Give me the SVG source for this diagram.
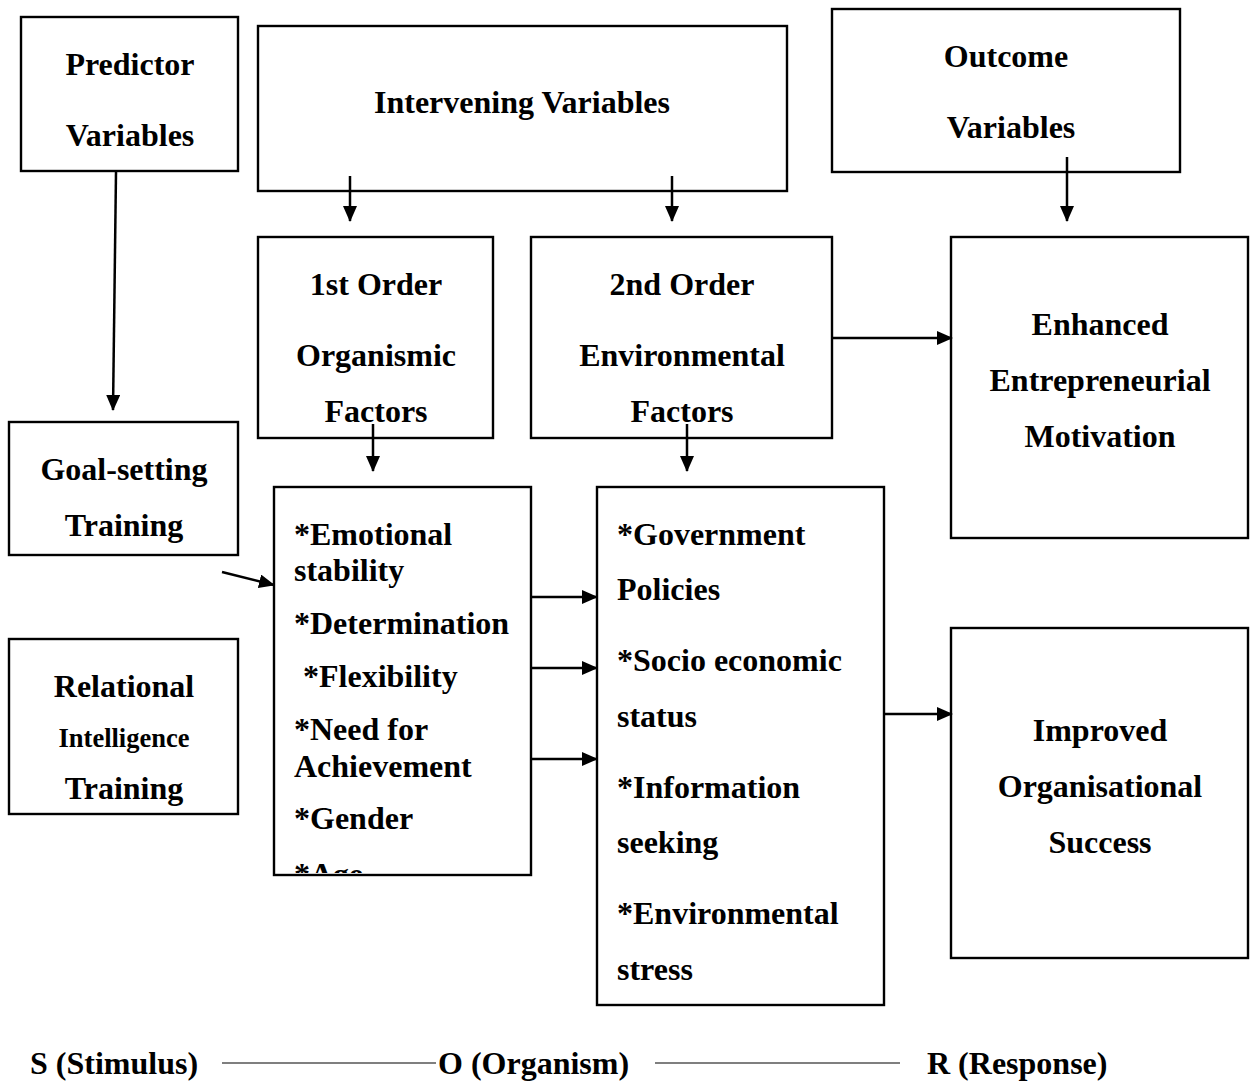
<svg xmlns="http://www.w3.org/2000/svg" width="1257" height="1081" viewBox="0 0 1257 1081">
<style>
.box{fill:#fff;stroke:#000;stroke-width:2.4}
text{font-family:"Liberation Serif","Times New Roman",serif;font-weight:bold;font-size:32px;fill:#000}
.c{text-anchor:middle}
.con{stroke:#000;stroke-width:2.5;fill:none;marker-end:url(#ah)}
.ln{stroke:#000;stroke-width:1.2}
</style>
<defs>
<marker id="ah" viewBox="0 0 16 14" refX="15" refY="7" markerWidth="16" markerHeight="14" markerUnits="userSpaceOnUse" orient="auto">
<path d="M0,0 L16,7 L0,14 z" fill="#000"/>
</marker>
<clipPath id="clipE"><rect x="275" y="488" width="255" height="385"/></clipPath>
</defs>
<rect width="1257" height="1081" fill="#fff"/>
<g id="predictor"><rect class="box" x="21" y="17" width="217" height="154"/><text class="c" x="130" y="75">Predictor</text><text class="c" x="130" y="146">Variables</text></g>
<g id="intervening"><rect class="box" x="258" y="26" width="529" height="165"/><text class="c" x="522" y="113">Intervening Variables</text></g>
<g id="outcome"><rect class="box" x="832" y="9" width="348" height="163"/><text class="c" x="1006" y="67">Outcome</text><text class="c" x="1011" y="138">Variables</text></g>
<g id="first-order"><rect class="box" x="258" y="237" width="235" height="201"/><text class="c" x="376" y="295">1st Order</text><text class="c" x="376" y="366">Organismic</text><text class="c" x="376" y="422">Factors</text></g>
<g id="second-order"><rect class="box" x="531" y="237" width="301" height="201"/><text class="c" x="682" y="295">2nd Order</text><text class="c" x="682" y="366">Environmental</text><text class="c" x="682" y="422">Factors</text></g>
<g id="enhanced"><rect class="box" x="951" y="237" width="297" height="301"/><text class="c" x="1100" y="335">Enhanced</text><text class="c" x="1100" y="391">Entrepreneurial</text><text class="c" x="1100" y="447">Motivation</text></g>
<g id="goal-setting"><rect class="box" x="9" y="422" width="229" height="133"/><text class="c" x="124" y="480">Goal-setting</text><text class="c" x="124" y="536">Training</text></g>
<g id="relational"><rect class="box" x="9" y="639" width="229" height="175"/><text class="c" x="124" y="697">Relational</text><text class="c" x="124" y="747" style="font-size:26.5px">Intelligence</text><text class="c" x="124" y="799">Training</text></g>
<g id="organismic-list"><rect class="box" x="274" y="487" width="257" height="388"/>
<g clip-path="url(#clipE)">
<text x="294" y="545">*Emotional</text><text x="294" y="581">stability</text><text x="294" y="634">*Determination</text><text x="303" y="687">*Flexibility</text><text x="294" y="740">*Need for</text><text x="294" y="777">Achievement</text><text x="294" y="829">*Gender</text><text x="294" y="885">*Age</text>
</g></g>
<g id="environmental-list"><rect class="box" x="597" y="487" width="287" height="518"/>
<text x="617" y="545">*Government</text><text x="617" y="600">Policies</text><text x="617" y="671">*Socio economic</text><text x="617" y="727">status</text><text x="617" y="798">*Information</text><text x="617" y="853">seeking</text><text x="617" y="924">*Environmental</text><text x="617" y="980">stress</text></g>
<g id="improved"><rect class="box" x="951" y="628" width="297" height="330"/><text class="c" x="1100" y="741">Improved</text><text class="c" x="1100" y="797">Organisational</text><text class="c" x="1100" y="853">Success</text></g>
<g id="connectors">
<path class="con" d="M116,172 L113,410"/>
<path class="con" d="M350,176 L350,221"/>
<path class="con" d="M672,176 L672,221"/>
<path class="con" d="M1067,157 L1067,221"/>
<path class="con" d="M373,424 L373,471"/>
<path class="con" d="M687,424 L687,471"/>
<path class="con" d="M832,338 L952,338"/>
<path class="con" d="M222,572 L274,585"/>
<path class="con" d="M531,597 L597,597"/>
<path class="con" d="M531,668 L597,668"/>
<path class="con" d="M531,759 L597,759"/>
<path class="con" d="M884,714 L952,714"/>
</g>
<g id="sor">
<text x="30" y="1074">S (Stimulus)</text>
<line class="ln" x1="222" y1="1063" x2="436" y2="1063"/>
<text x="438" y="1074">O (Organism)</text>
<line class="ln" x1="655" y1="1063" x2="900" y2="1063"/>
<text x="927" y="1074">R (Response)</text>
</g>
</svg>
